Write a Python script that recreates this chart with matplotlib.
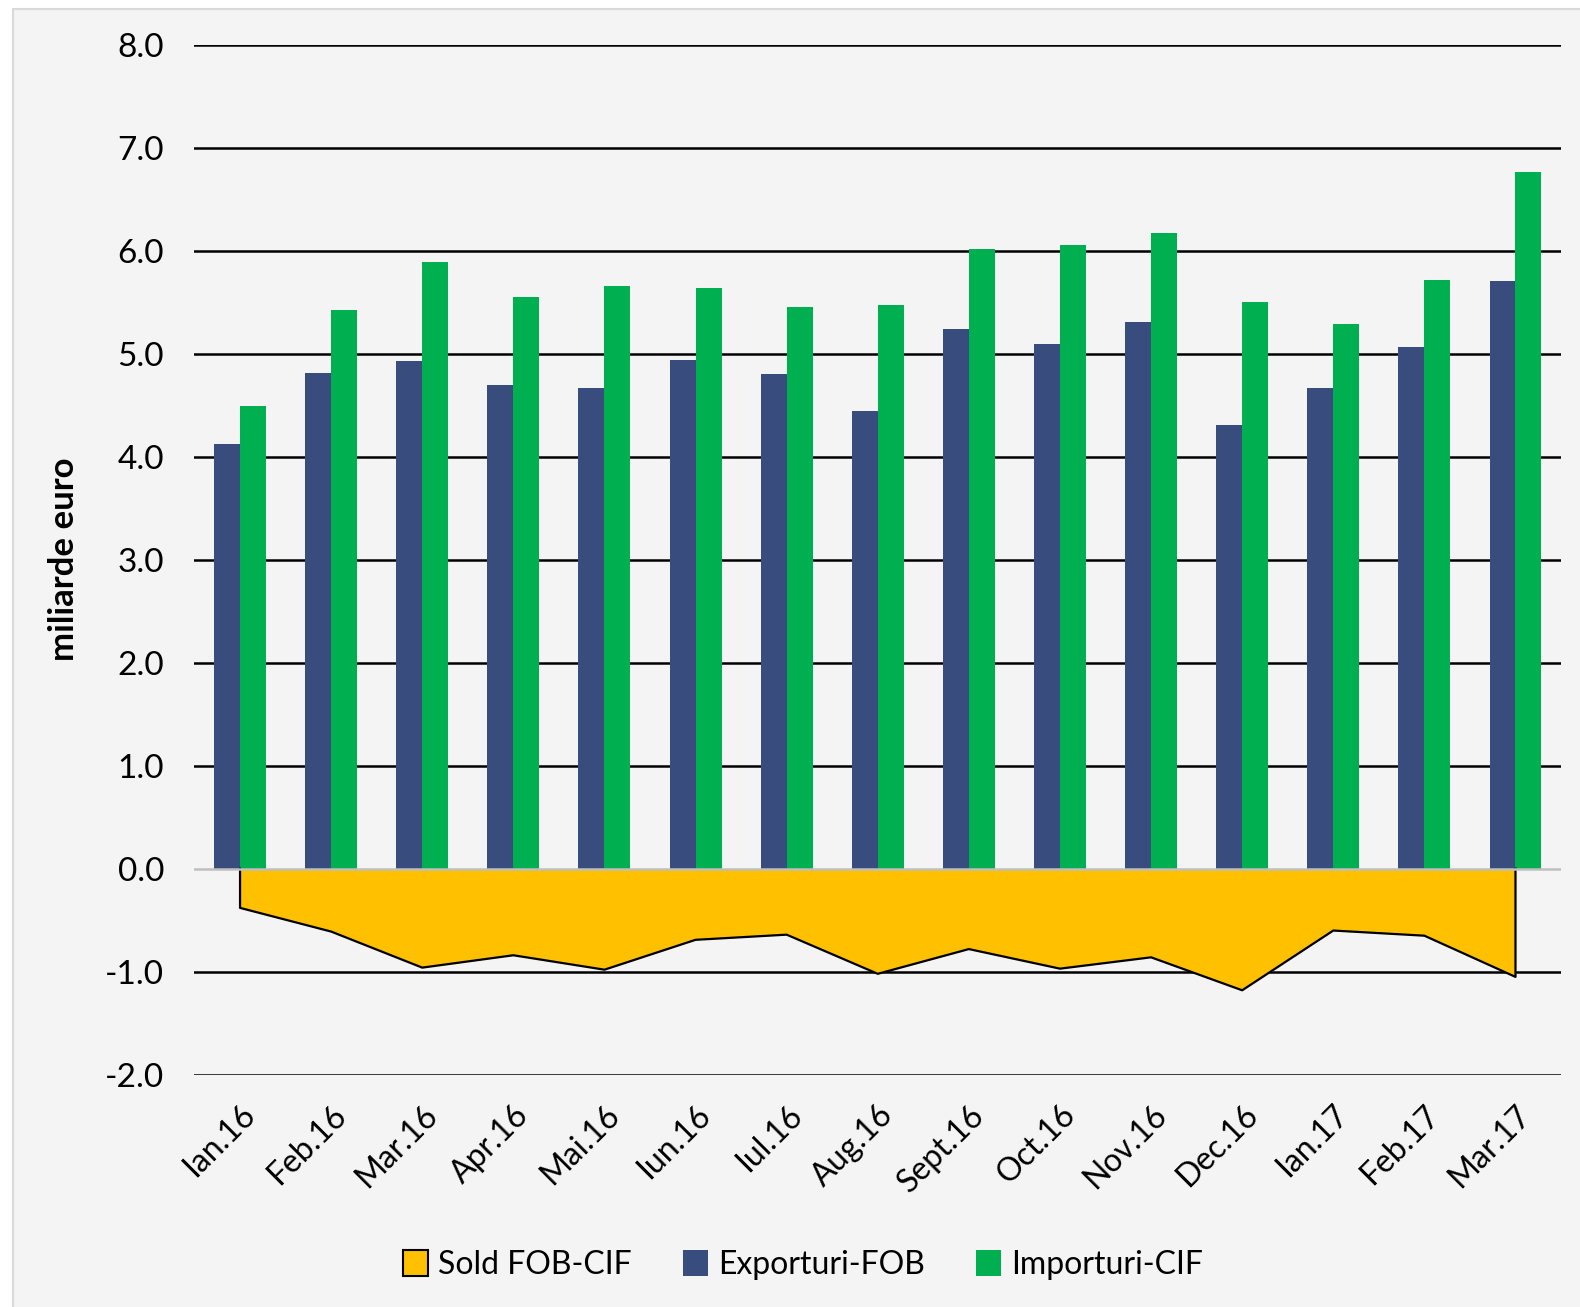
import numpy as np
from matplotlib import pyplot as plt
from matplotlib.patches import Rectangle, Patch

luni = ["Ian.16", "Feb.16", "Mar.16", "Apr.16", "Mai.16", "Iun.16", "Iul.16", "Aug.16",
        "Sept.16", "Oct.16", "Nov.16", "Dec.16", "Ian.17", "Feb.17", "Mar.17"]
exporturi = [4.12, 4.81, 4.93, 4.70, 4.67, 4.94, 4.80, 4.44, 5.24, 5.09, 5.31, 4.31, 4.67, 5.07, 5.71]
importuri = [4.49, 5.42, 5.89, 5.55, 5.66, 5.64, 5.45, 5.47, 6.02, 6.06, 6.17, 5.50, 5.29, 5.72, 6.76]
sold = [-0.38, -0.61, -0.96, -0.84, -0.98, -0.69, -0.64, -1.02, -0.78, -0.97, -0.86, -1.18, -0.60, -0.65, -1.05]

c_exp = "#384C7E"
c_imp = "#00B050"
c_sold = "#FFC000"
font = "Lato"

plt.rcParams['font.family'] = [font, 'DejaVu Sans']

fig = plt.figure(figsize=(15.8, 13.07), dpi=100)
fig.patch.set_facecolor("white")
fig.patches.append(Rectangle((13/1580, -0.01), 1.0, 1 - 9/1307 + 0.01, transform=fig.transFigure,
                             facecolor="#f4f4f4", edgecolor="#d9d9d9", lw=1.5, zorder=-10))

ax = fig.add_axes([0.1231, 0.1777, 0.988 - 0.1231, 0.9658 - 0.1777])
ax.set_facecolor("none")

x = np.arange(len(luni))
w = 0.285

# area for the balance, from category centers
ax.fill_between(x, sold, 0, color=c_sold, zorder=2, lw=0)
xs = np.concatenate([[x[0]], x, [x[-1]]])
ys = np.concatenate([[0], sold, [0]])
ax.plot(xs, ys, color="black", lw=1.6, zorder=3)

ax.bar(x - w/2, exporturi, w, color=c_exp, zorder=2)
ax.bar(x + w/2, importuri, w, color=c_imp, zorder=2)

ax.set_ylim(-2, 8)
ax.set_xlim(-0.5, 14.5)
ax.set_yticks(np.arange(-2, 8.1, 1))
ax.set_yticklabels([f"{v:.1f}" for v in np.arange(-2, 8.1, 1)])
for v in np.arange(-2, 8.1, 1):
    if v != 0:
        ax.axhline(v, color="black", lw=1.8, zorder=1)
ax.axhline(0, color="#bfbfbf", lw=1.8, zorder=4)

ax.set_xticks(x)
ax.set_xticklabels(luni, rotation=45, ha="right", rotation_mode="anchor")
ax.tick_params(axis="both", length=0)
ax.tick_params(axis="y", pad=22, labelsize=24)
ax.tick_params(axis="x", pad=18, labelsize=23)
for s in ax.spines.values():
    s.set_visible(False)

ax.set_ylabel("miliarde euro", fontsize=25, fontweight="bold", labelpad=18)

handles = [Patch(facecolor=c_sold, edgecolor="black", lw=1.5, label="Sold FOB-CIF"),
           Patch(facecolor=c_exp, label="Exporturi-FOB"),
           Patch(facecolor=c_imp, label="Importuri-CIF")]
fig.legend(handles=handles, loc="center", bbox_to_anchor=(0.508, 1 - 1265/1307), ncol=3,
           frameon=False, fontsize=23, handlelength=0.8, handleheight=0.9, handletextpad=0.3,
           columnspacing=1.6)

fig.savefig("out.png", dpi=100, facecolor=fig.get_facecolor())
